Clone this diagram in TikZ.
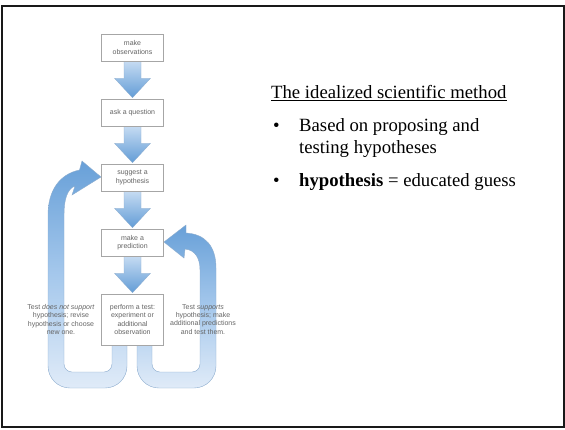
\documentclass[tikz,border=0pt]{standalone}
\usepackage{fontspec}
\setmainfont{Liberation Serif}
\newfontfamily\sansbox{Liberation Sans}
\usetikzlibrary{calc,shadows,backgrounds}
\definecolor{arrdark}{RGB}{98,156,214}
\definecolor{arrlight}{RGB}{200,221,243}
\definecolor{loopdark}{RGB}{104,160,216}
\definecolor{loopmid}{RGB}{165,200,236}
\definecolor{looplight}{RGB}{224,235,248}
\definecolor{loopedge}{RGB}{140,172,206}
\definecolor{boxtext}{RGB}{100,100,100}
\newcommand\sciarrow[2]{%
  \shadedraw[flowband]
  ($(#1.south)+(-8.5,-1)$) -- ($(#1.south)+(8.5,-1)$) -- ($(#1.south)+(8.5,17)$) --
  ($(#1.south)+(18,17)$) -- ($(#2.north)+(0,-1)$) -- ($(#1.south)+(-18,17)$) --
  ($(#1.south)+(-8.5,17)$) -- cycle;}
\begin{document}
\begin{tikzpicture}[x=1pt,y=-1pt,
  procbox/.style={draw=black!35, fill=white, line width=0.5pt, minimum width=61.6pt,
    inner sep=0pt, align=center, font=\sansbox\fontsize{7}{8.2}\selectfont, text=boxtext,
    drop shadow={shadow xshift=1.1pt, shadow yshift=-1.1pt, opacity=1, fill=black!50}},
  sidetext/.style={align=center, inner sep=0pt, font=\sansbox\fontsize{7}{8.2}\selectfont, text=boxtext},
  slide/.style={anchor=base west, inner sep=0pt, font=\fontsize{18.7}{21.3}\selectfont},
  loopband/.style={top color=loopdark, bottom color=looplight, middle color=loopmid, draw=loopedge, line width=0.4pt},
  flowband/.style={top color=arrlight, bottom color=arrdark, draw=loopedge, line width=0.3pt}]
\useasboundingbox (0,0) rectangle (565,429);
\draw[line width=1.8pt, black!90] (2.3,6) rectangle (563.8,427.3);

% process boxes
\node[procbox, minimum height=27pt] (obs)  at (132.5,47.5)  {make\\observations};
\node[procbox, minimum height=27pt] (ask)  at (132.5,112.5) {ask a question};
\node[procbox, minimum height=27pt] (hyp)  at (132.5,177.5) {suggest a\\hypothesis};
\node[procbox, minimum height=27pt] (pred) at (132.5,242.5) {make a\\prediction};
\node[procbox, minimum height=51pt] (test) at (132.5,319.5) {perform a test:\\experiment or\\additional\\observation};

% side labels
\node[sidetext] (fail) at (61,319.5) {Test \textit{does not support}\\hypothesis; revise\\hypothesis or choose\\new one.};
\node[sidetext] (pass) at (203,319.5) {Test \textit{supports}\\hypothesis; make\\additional predictions\\and test them.};

\begin{scope}[on background layer]
\sciarrow{obs}{ask}
\sciarrow{ask}{hyp}
\sciarrow{hyp}{pred}
\sciarrow{pred}{test}
% left loop: back to hypothesis
\shadedraw[loopband] (127,340) -- (127,366) .. controls (127,378.15) and (117.15,388) .. (105,388)
  -- (70,388) .. controls (57.85,388) and (48,378.15) .. (48,366)
  -- (48,215) .. controls (48,190) and (60,174) .. (79.5,170)
  -- (82,161) -- (101,177) -- (72,195) -- (75,186)
  .. controls (67,189) and (64,200) .. (64,215)
  -- (64,364) .. controls (64,368.4) and (67.6,372) .. (72,372)
  -- (104,372) .. controls (108.4,372) and (112,368.4) .. (112,364)
  -- (112,340) -- cycle;
% right loop: back to prediction
\shadedraw[loopband] (137,340) -- (137,366) .. controls (137,378.15) and (146.85,388) .. (159,388)
  -- (194,388) .. controls (206.15,388) and (216,378.15) .. (216,366)
  -- (216,268) .. controls (216,246) and (205,234) .. (186,233)
  -- (186,225) -- (164,242) -- (184,258) -- (185,249)
  .. controls (195,250) and (200,258) .. (200,270)
  -- (200,364) .. controls (200,368.4) and (196.4,372) .. (192,372)
  -- (160,372) .. controls (155.6,372) and (152,368.4) .. (152,364)
  -- (152,340) -- cycle;
\end{scope}

% right-hand text
\node[slide] (title) at (271,98) {The idealized scientific method};
\draw[line width=1.2pt] ($(title.base west)+(0,2.8)$) -- ($(title.base east)+(0,2.8)$);
\node[slide] (bul1) at (273,131.7) {\textbullet};
\node[slide] (l1a) at (299,131.7) {Based on proposing and};
\node[slide] (l1b) at (299,153) {testing hypotheses};
\node[slide] (bul2) at (273,186.7) {\textbullet};
\node[slide] (l2) at (299,186.7) {\textbf{hypothesis} = educated guess};
\end{tikzpicture}
\end{document}
